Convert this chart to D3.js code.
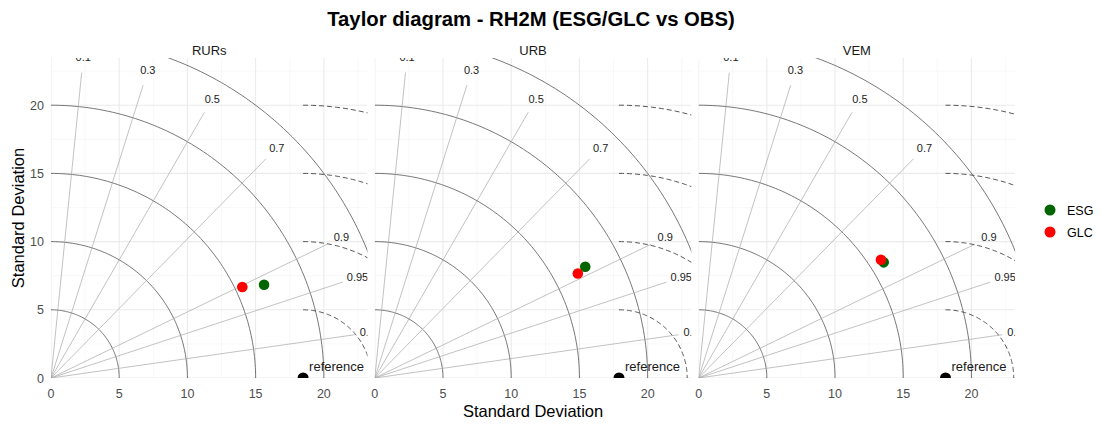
<!DOCTYPE html>
<html>
<head>
<meta charset="utf-8">
<script src="https://cdn.jsdelivr.net/npm/d3@7"></script>
<style>
  body { margin: 0; background: #fff; }
  svg { font-family: "Liberation Sans", Arial, sans-serif; }
</style>
</head>
<body>
<svg width="1101" height="424"></svg>
<script>
// data
const panels = ["RURs", "URB", "VEM"];
const refSD = [18.48, 17.9, 18.1];
const models = ["ESG", "GLC"];
const modelColors = ["#006400", "#ff0000"];
const esgSD = [17.05, 17.45, 16.0];
const esgCor = [0.916, 0.884, 0.848];
const glcSD = [15.53, 16.74, 15.93];
const glcCor = [0.903, 0.889, 0.839];
const corTicks = [0.1, 0.3, 0.5, 0.7, 0.9, 0.95, 0.99];
const sdTicks = [0, 5, 10, 15, 20];
const sdArcs = [5, 10, 15, 20, 25];
const rmsArcs = [5, 10, 15, 20];

var svg = d3.select("svg");

var panelW = 316.5, panelH = 320, gap = 7.3,
    marginLeft = 51, marginTop = 58;

var x = d3.scaleLinear().domain([0, 23.2]).range([0, panelW]);
var y = d3.scaleLinear().domain([0, 23.46]).range([panelH, 0]);

// title
svg.append("text")
    .attr("x", 531).attr("y", 26)
    .attr("text-anchor", "middle")
    .style("font-size", "20.3px").style("font-weight", "bold")
    .text("Taylor diagram - RH2M (ESG/GLC vs OBS)");

// polar helpers
function px(r, th) { return x(r * Math.cos(th)); }
function py(r, th) { return y(r * Math.sin(th)); }

var line = d3.line();

panels.forEach(function (name, i) {
    var ox = marginLeft + i * (panelW + gap);
    var g = svg.append("g").attr("transform", "translate(" + ox + "," + marginTop + ")");

    g.append("clipPath").attr("id", "clip" + i)
        .append("rect").attr("width", panelW).attr("height", panelH);

    // strip label
    g.append("text")
        .attr("x", panelW / 2).attr("y", -3)
        .attr("text-anchor", "middle")
        .style("font-size", "13px").style("fill", "#1a1a1a")
        .text(name);

    var body = g.append("g").attr("clip-path", "url(#clip" + i + ")");

    // grid
    var minor = d3.range(2.5, 25, 5);
    body.selectAll(".gminx").data(minor).enter().append("line")
        .attr("x1", d => x(d)).attr("x2", d => x(d))
        .attr("y1", 0).attr("y2", panelH)
        .attr("stroke", "#f3f3f3").attr("stroke-width", 0.6);
    body.selectAll(".gminy").data(minor).enter().append("line")
        .attr("y1", d => y(d)).attr("y2", d => y(d))
        .attr("x1", 0).attr("x2", panelW)
        .attr("stroke", "#f3f3f3").attr("stroke-width", 0.6);
    body.selectAll(".gx").data(sdTicks).enter().append("line")
        .attr("x1", d => x(d)).attr("x2", d => x(d))
        .attr("y1", 0).attr("y2", panelH)
        .attr("stroke", "#ebebeb").attr("stroke-width", 1.1);
    body.selectAll(".gy").data(sdTicks).enter().append("line")
        .attr("y1", d => y(d)).attr("y2", d => y(d))
        .attr("x1", 0).attr("x2", panelW)
        .attr("stroke", "#ebebeb").attr("stroke-width", 1.1);

    // sd arcs around origin
    body.selectAll(".sdarc").data(sdArcs).enter().append("path")
        .attr("d", function (r) {
            var pts = d3.range(0, 91).map(a => {
                var th = a * Math.PI / 180;
                return [px(r, th), py(r, th)];
            });
            return line(pts);
        })
        .attr("fill", "none").attr("stroke", "#555").attr("stroke-width", 0.8);

    // correlation rays
    body.selectAll(".ray").data(corTicks).enter().append("line")
        .attr("x1", x(0)).attr("y1", y(0))
        .attr("x2", d => px(22.5, Math.acos(d)))
        .attr("y2", d => py(22.5, Math.acos(d)))
        .attr("stroke", "#a8a8a8").attr("stroke-width", 0.7);

    body.selectAll(".raylab").data(corTicks).enter().append("text")
        .attr("x", d => px(23.65, Math.acos(d)))
        .attr("y", d => py(23.65, Math.acos(d)) + 4)
        .attr("text-anchor", "middle")
        .style("font-size", "11px").style("fill", "#222")
        .text(d => d);

    // rms difference arcs around reference
    var ref = refSD[i];
    body.selectAll(".rms").data(rmsArcs).enter().append("path")
        .attr("d", function (r) {
            var pts = d3.range(0, 91).map(a => {
                var th = a * Math.PI / 180;
                return [x(ref + r * Math.cos(th)), y(r * Math.sin(th))];
            });
            return line(pts.reverse());
        })
        .attr("fill", "none").attr("stroke", "#444")
        .attr("stroke-width", 0.9).attr("stroke-dasharray", "5,3");

    // reference point
    body.append("circle")
        .attr("cx", x(ref)).attr("cy", y(0)).attr("r", 5.5)
        .attr("fill", "#000");
    body.append("text")
        .attr("x", x(ref) + 6).attr("y", y(0) - 7)
        .style("font-size", "13px").style("fill", "#1a1a1a")
        .text("reference");

    // model points
    var sds = [esgSD[i], glcSD[i]], cors = [esgCor[i], glcCor[i]];
    models.forEach(function (m, k) {
        var th = Math.acos(cors[k]);
        body.append("circle")
            .attr("cx", px(sds[k], th)).attr("cy", py(sds[k], th))
            .attr("r", 5.3).attr("fill", modelColors[k]);
    });

    // x axis labels
    g.selectAll(".xt").data(sdTicks).enter().append("text")
        .attr("x", d => x(d)).attr("y", panelH + 20)
        .attr("text-anchor", "middle")
        .style("font-size", "12.5px").style("fill", "#4d4d4d")
        .text(d => d);

    if (i === 0) {
        g.selectAll(".yt").data(sdTicks).enter().append("text")
            .attr("x", -7).attr("y", d => y(d) + 4.5)
            .attr("text-anchor", "end")
            .style("font-size", "12.5px").style("fill", "#4d4d4d")
            .text(d => d);
    }
});

// axis titles
svg.append("text")
    .attr("x", marginLeft + (3 * panelW + 2 * gap) / 2).attr("y", 417)
    .attr("text-anchor", "middle")
    .style("font-size", "16.5px").style("fill", "#000")
    .text("Standard Deviation");
svg.append("text")
    .attr("transform", "translate(24," + (marginTop + panelH / 2) + ") rotate(-90)")
    .attr("text-anchor", "middle")
    .style("font-size", "16.5px").style("fill", "#000")
    .text("Standard Deviation");

// legend
var leg = svg.append("g").attr("transform", "translate(1050,210)");
models.forEach(function (m, k) {
    leg.append("circle").attr("cx", 0).attr("cy", k * 22).attr("r", 5.5)
        .attr("fill", modelColors[k]);
    leg.append("text").attr("x", 17).attr("y", k * 22 + 4.5)
        .style("font-size", "12.5px").style("fill", "#000")
        .text(m);
});
</script>
</body>
</html>
